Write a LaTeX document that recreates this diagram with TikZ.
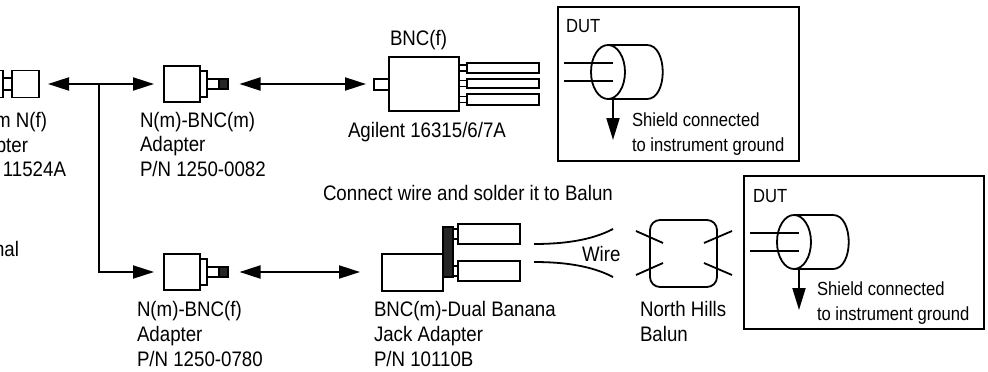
\documentclass[tikz,border=0pt]{standalone}
\usepackage{fontspec}
\setmainfont{Liberation Sans}[FakeStretch=0.875]
\newfontfamily\outerfont{Liberation Sans}[FakeStretch=0.89]
\usetikzlibrary{arrows.meta,shapes.geometric}
\tikzset{
	part/.style={draw, rectangle, inner sep=0, outer sep=0, line width=1.8pt, fill=white},
	darkpart/.style={part, fill=black!85},
	label/.style={inner sep=0, outer sep=0, anchor=base west, align=left, font=\outerfont\fontsize{21}{24.6}\selectfont},
	endlabel/.style={label, anchor=base east, align=right},
	dutlabel/.style={label, font=\fontsize{19}{24.6}\selectfont},
	biarrow/.style={line width=2pt, {Triangle[length=21pt,width=13pt]}-{Triangle[length=21pt,width=13pt]}},
	downarrow/.style={line width=2pt, -{Triangle[length=22pt,width=13pt]}},
	wire/.style={line width=1.8pt}
}
\begin{document}
\begin{tikzpicture}[x=1pt, y=-1pt]
	\useasboundingbox (0,0) rectangle (988,372);

	% connector cut by the left edge
	\node at (-1,84) [part, minimum width=8, minimum height=27] (leftcollar) {};
	\node at (8,84) [part, minimum width=9, minimum height=12] (leftpin) {};
	\node at (25.5,84) [part, minimum width=27, minimum height=27] (leftbody) {};

	% upper adapter
	\node at (182,84) [part, minimum width=36, minimum height=36] (topbody) {};
	\node at (203.5,84) [part, minimum width=7, minimum height=26] (topcollar) {};
	\node at (213,84) [part, minimum width=12, minimum height=10] (toppin) {};
	\node at (223.5,84) [darkpart, minimum width=9, minimum height=10] (toptip) {};

	% lower adapter
	\node at (182,272) [part, minimum width=36, minimum height=36] (botbody) {};
	\node at (203.5,272) [part, minimum width=7, minimum height=26] (botcollar) {};
	\node at (213,272) [part, minimum width=12, minimum height=10] (botpin) {};
	\node at (223.5,272) [darkpart, minimum width=9, minimum height=10] (bottip) {};

	% test fixture
	\node at (381.5,84.5) [part, minimum width=15, minimum height=11] (fixstub) {};
	\node at (424,84) [part, minimum width=70, minimum height=54] (fixbody) {};
	\node at (463,68) [part, minimum width=8, minimum height=6] (fixpina) {};
	\node at (463,83.5) [part, minimum width=8, minimum height=6] (fixpinb) {};
	\node at (463,99.5) [part, minimum width=8, minimum height=6] (fixpinc) {};
	\node at (503,68) [part, minimum width=72, minimum height=10] (fixleada) {};
	\node at (503,83.5) [part, minimum width=72, minimum height=9] (fixleadb) {};
	\node at (503,99.5) [part, minimum width=72, minimum height=11] (fixleadc) {};

	% dual banana adapter
	\node at (412.5,272.5) [part, minimum width=61, minimum height=37] (banbody) {};
	\node at (448,252) [darkpart, minimum width=10, minimum height=50] (banplate) {};
	\node at (455.5,234) [part, minimum width=5, minimum height=10] (banpina) {};
	\node at (455.5,271) [part, minimum width=5, minimum height=10] (banpinb) {};
	\node at (489,234) [part, minimum width=62, minimum height=20] (banjacka) {};
	\node at (489,271) [part, minimum width=62, minimum height=20] (banjackb) {};

	% balun
	\node at (683.5,253.5) [part, rounded corners=10pt, minimum width=67, minimum height=67] (balun) {};
	\draw[wire] (636,231) -- (663,243);
	\draw[wire] (636,275) -- (663,263);
	\draw[wire] (704,243) -- (732,231);
	\draw[wire] (704,263) -- (732,275);

	% wires
	\draw[wire] (534,244) .. controls (565,244) and (592,240) .. (613,229);
	\draw[wire] (534,262) .. controls (565,262) and (592,266) .. (613,277);

	% arrows
	\coordinate (branch) at (99,84);
	\coordinate (fixend) at (fixstub.west |- branch);
	\draw[biarrow, shorten <=9pt, shorten >=10pt] (leftbody.east) -- (topbody.west);
	\draw[line width=2pt, -{Triangle[length=21pt,width=13pt]}, shorten >=10pt] (branch) |- (botbody.west);
	\draw[biarrow, shorten <=11.5pt, shorten >=8pt] (toptip.east) -- (fixend);
	\draw[biarrow, shorten <=11.5pt, shorten >=22pt] (bottip.east) -- (banbody.west |- bottip.east);

	% upper DUT
	\node at (678.5,84) [part, fill=none, minimum width=241, minimum height=154] (dutone) {};
	\node at (608,72) [draw, ellipse, inner sep=0, outer sep=0, line width=1.8pt, minimum width=34, minimum height=54] (cableone) {};
	\draw[wire] (cableone.north) -- (647,45) .. controls (668,45) and (668,99) .. (647,99) -- (cableone.south);
	\draw[wire] (564,63) -- (613,63);
	\draw[wire] (564,81) -- (613,81);
	\coordinate (groundone) at (613,140);
	\draw[downarrow] (613,98) -- (groundone);

	% lower DUT
	\node at (864,252.5) [part, fill=none, minimum width=240, minimum height=153] (duttwo) {};
	\node at (794,242) [draw, ellipse, inner sep=0, outer sep=0, line width=1.8pt, minimum width=34, minimum height=54] (cabletwo) {};
	\draw[wire] (cabletwo.north) -- (833,215) .. controls (854,215) and (854,269) .. (833,269) -- (cabletwo.south);
	\draw[wire] (750,233) -- (799,233);
	\draw[wire] (750,251) -- (799,251);
	\coordinate (groundtwo) at (799,310);
	\draw[downarrow] (799,268) -- (groundtwo);

	% labels
	\node at (47,127) [endlabel] (lblzero) {m N(f)};
	\node at (28,152) [endlabel] (lblzerob) {pter};
	\node at (66,176) [endlabel] (lblzeroc) {11524A};
	\node at (19,256) [endlabel] (lblnal) {nal};
	\node at (140,176.5) [label] (lbltop) {N(m)-BNC(m)\\Adapter\\P/N 1250-0082};
	\node at (137,366) [label] (lblbot) {N(m)-BNC(f)\\Adapter\\P/N 1250-0780};
	\node at (390,45) [label] (lblbnc) {BNC(f)};
	\node at (348,137) [label] (lblfix) {Agilent 16315/6/7A};
	\node at (323,200) [label] (lblsolder) {Connect wire and solder it to Balun};
	\node at (374,366) [label] (lblban) {BNC(m)-Dual Banana\\Jack Adapter\\P/N 10110B};
	\node at (582,261) [label] (lblwire) {Wire};
	\node at (640,341) [label] (lblbalun) {North Hills\\Balun};
	\node at (566,32) [dutlabel] (lbldutone) {DUT};
	\node at (632,151) [dutlabel] (lblshieldone) {Shield connected\\to instrument ground};
	\node at (753,202) [dutlabel] (lbldutwo) {DUT};
	\node at (817,320) [dutlabel] (lblshieldtwo) {Shield connected\\to instrument ground};
\end{tikzpicture}
\end{document}
